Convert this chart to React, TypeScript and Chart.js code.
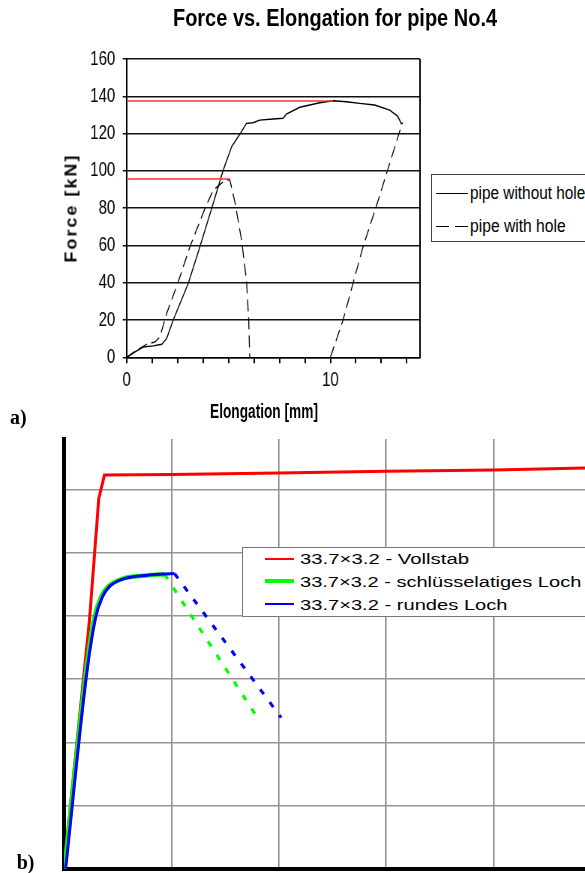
import React, { useEffect, useLayoutEffect, useRef, useState } from "react";
import { Chart, registerables } from "chart.js";

Chart.register(...registerables);

const SANS = "'Liberation Sans',Arial,sans-serif";
const SERIF = "'Liberation Serif','Times New Roman',serif";

// ---------- Chart a: Force vs. Elongation ----------
const titleA = "Force vs. Elongation for pipe No.4";
const xTitleA = "Elongation [mm]";
const yTitleA = "Force [kN]";
const seriesNamesA = ["pipe without hole", "pipe with hole"];
const forceTicks = [0, 20, 40, 60, 80, 100, 120, 140, 160];
const elongationLabels = [0, 10];

const noHoleX = [0, 0.41, 0.81, 1.3, 1.72, 1.96, 2.28, 3.02, 3.59, 4.17, 4.74, 5.15, 5.55, 5.88, 6.2, 6.53, 7.19, 7.68, 7.84, 8.5, 9.48, 10.13, 10.78, 11.44, 12.17, 12.91, 13.3, 13.5];
const noHoleY = [0, 2.9, 5.5, 6.1, 7.0, 10, 19.9, 39.6, 59.2, 79.8, 100.4, 112.9, 119.6, 125.5, 125.8, 127.2, 127.8, 128.2, 130.5, 134.1, 136.5, 137.6, 137.1, 136.2, 135.3, 132.6, 129.4, 125];

const withHoleX = [0, 0.49, 0.98, 1.39, 1.63, 1.96, 2.53, 3.1, 3.84, 4.25, 4.74, 5.06, 5.31, 5.64, 5.88, 5.99, 6.04];
const withHoleY = [0, 3.8, 7, 8.2, 10.9, 23.5, 40.4, 59.2, 79.8, 89.7, 94.1, 95.4, 83.4, 62.8, 41.3, 19.9, 0];

const unloadX = [10.0, 10.62, 11.11, 11.6, 12.22, 13.54];
const unloadY = [0, 19.9, 39.6, 59.2, 79.8, 126];

const peakNoHole = { x: 10.13, y: 137.5 };
const peakWithHole = { x: 5.06, y: 95.6 };

// ---------- Chart b: simulation curves ----------
const seriesNamesB = [
  "33.7×3.2 - Vollstab",
  "33.7×3.2 - schlüsselatiges Loch",
  "33.7×3.2 - rundes Loch",
];
const vollX = [0, 0.237, 0.324, 0.377, 1, 2, 3, 4, 4.85, 5.2];
const vollY = [0, 3.93, 5.86, 6.23, 6.24, 6.26, 6.29, 6.31, 6.34, 6.35];

const keyX = [0.005, 0.207, 0.284, 0.346, 0.408, 0.547, 0.765, 0.936];
const keyY = [0, 3.14, 3.98, 4.3, 4.46, 4.59, 4.64, 4.66];
const keyDropX = [0.936, 1.82];
const keyDropY = [4.66, 2.34];

const roundX = [0.015, 0.215, 0.295, 0.357, 0.42, 0.56, 0.78, 1.029];
const roundY = [0, 3.14, 3.98, 4.3, 4.46, 4.59, 4.645, 4.67];
const roundDropX = [1.029, 2.022];
const roundDropY = [4.67, 2.39];

const zip = (xs: number[], ys: number[]) => xs.map((x, i) => ({ x, y: ys[i] }));

// horizontal squeeze of panel a (the original figure is condensed)
const K = 0.75;
const WA = 585 / K;

type FitProps = {
  text: string;
  x: number;
  y: number;
  width: number;
  font: string;
  anchor?: "left" | "center";
  rotate?: boolean;
  letterSpacing?: string;
};

function FitText({ text, x, y, width, font, anchor = "left", rotate = false, letterSpacing }: FitProps) {
  const ref = useRef<HTMLSpanElement>(null);
  const [s, setS] = useState(1);
  useLayoutEffect(() => {
    const m = () => {
      const el = ref.current;
      if (el && el.offsetWidth) setS(width / el.offsetWidth);
    };
    m();
    const fs: any = (document as any).fonts;
    if (fs && fs.ready) fs.ready.then(m);
  }, [text, width, font]);
  const tf =
    anchor === "center"
      ? `translate(-50%,-50%)${rotate ? " rotate(-90deg)" : ""} scaleX(${s})`
      : `translateY(-50%) scaleX(${s})`;
  return (
    <span
      ref={ref}
      style={{
        position: "absolute",
        left: x,
        top: y,
        font,
        lineHeight: 1,
        whiteSpace: "nowrap",
        transform: tf,
        transformOrigin: anchor === "center" ? "50% 50%" : "0 50%",
        letterSpacing,
        color: "#000",
      }}
    >
      {text}
    </span>
  );
}

function ChartA() {
  const ref = useRef<HTMLCanvasElement>(null);
  useEffect(() => {
    const frame = {
      id: "frameA",
      beforeDatasetsDraw(chart: any) {
        const { ctx, chartArea } = chart;
        ctx.save();
        ctx.strokeStyle = "#000";
        ctx.lineWidth = 2;
        ctx.beginPath();
        ctx.moveTo(chartArea.right, chartArea.top);
        ctx.lineTo(chartArea.right, chartArea.bottom);
        ctx.stroke();
        ctx.restore();
      },
    };
    const line = { showLine: true, pointRadius: 0 };
    const c = new Chart(ref.current as HTMLCanvasElement, {
      type: "scatter",
      data: {
        datasets: [
          { ...line, label: "max without hole", data: [{ x: 0, y: peakNoHole.y }, { x: peakNoHole.x, y: peakNoHole.y }], borderColor: "#ff3030", borderWidth: 1.6 },
          { ...line, label: "max with hole", data: [{ x: 0, y: peakWithHole.y }, { x: peakWithHole.x, y: peakWithHole.y }], borderColor: "#ff3030", borderWidth: 1.6 },
          { ...line, label: seriesNamesA[0], data: zip(noHoleX, noHoleY), borderColor: "#000", borderWidth: 1.4 },
          { ...line, label: seriesNamesA[1], data: zip(withHoleX, withHoleY), borderColor: "#000", borderWidth: 1.3, borderDash: [12, 6] },
          { ...line, label: "unloading", data: zip(unloadX, unloadY), borderColor: "#000", borderWidth: 1.3, borderDash: [12, 6] },
        ],
      },
      options: {
        animation: false,
        responsive: false,
        devicePixelRatio: 1,
        layout: { padding: { left: 0, top: 59, right: WA - 420 / K, bottom: 0 } },
        plugins: { legend: { display: false }, tooltip: { enabled: false }, title: { display: false } },
        elements: { point: { radius: 0 }, line: { tension: 0 } },
        scales: {
          x: {
            type: "linear",
            min: 0,
            max: 14.4,
            afterFit: (s: any) => {
              s.height = 72.7;
            },
            ticks: {
              stepSize: 1.25,
              includeBounds: false,
              autoSkip: false,
              maxRotation: 0,
              padding: 5,
              color: "#000",
              font: { family: SANS, size: 20 },
              callback: (v: any) => {
                const l = elongationLabels.find((e) => Math.abs(e - Number(v)) < 1e-6);
                return l === undefined ? "" : String(l);
              },
            },
            grid: { drawOnChartArea: false, drawTicks: true, tickLength: 6, color: "#000", lineWidth: 2 },
            border: { display: true, color: "#000", width: 1.5 },
          },
          y: {
            type: "linear",
            min: forceTicks[0],
            max: forceTicks[forceTicks.length - 1],
            afterFit: (s: any) => {
              s.width = 126.7 / K;
            },
            afterBuildTicks: (s: any) => {
              s.ticks = forceTicks.map((v) => ({ value: v }));
            },
            ticks: { padding: 10, color: "#000", font: { family: SANS, size: 20 } },
            grid: { color: "#111", lineWidth: 1.5, tickLength: 5.3 },
            border: { color: "#000", width: 2 },
          },
        },
      } as any,
      plugins: [frame],
    });
    return () => c.destroy();
  }, []);
  return (
    <canvas
      ref={ref}
      width={WA}
      height={430}
      style={{ position: "absolute", left: 0, top: 0, width: 585, height: 430 }}
    />
  );
}

function ChartB() {
  const ref = useRef<HTMLCanvasElement>(null);
  useEffect(() => {
    const common = { showLine: true, pointRadius: 0 };
    const c = new Chart(ref.current as HTMLCanvasElement, {
      type: "scatter",
      data: {
        datasets: [
          { ...common, label: seriesNamesB[2] + " (drop)", data: zip(roundDropX, roundDropY), borderColor: "#0000ff", borderWidth: 3, borderDash: [6, 10], order: 0 },
          { ...common, label: seriesNamesB[2], data: zip(roundX, roundY), borderColor: "#0000ff", borderWidth: 3, cubicInterpolationMode: "monotone", order: 1 },
          { ...common, label: seriesNamesB[1] + " (drop)", data: zip(keyDropX, keyDropY), borderColor: "#00ff00", borderWidth: 3, borderDash: [6, 10], order: 2 },
          { ...common, label: seriesNamesB[1], data: zip(keyX, keyY), borderColor: "#00ff00", borderWidth: 4.5, cubicInterpolationMode: "monotone", order: 3 },
          { ...common, label: seriesNamesB[0], data: zip(vollX, vollY), borderColor: "#ff0000", borderWidth: 3, order: 4 },
        ],
      },
      options: {
        animation: false,
        responsive: false,
        devicePixelRatio: 1,
        layout: { padding: { left: 0, top: 19, right: 17.5, bottom: 0 } },
        plugins: { legend: { display: false }, tooltip: { enabled: false }, title: { display: false } },
        elements: { point: { radius: 0 } },
        scales: {
          x: {
            type: "linear",
            min: 0,
            max: 5.2,
            afterFit: (s: any) => {
              s.height = 4.3;
            },
            ticks: { display: false, stepSize: 1, includeBounds: false },
            grid: { color: "#959595", lineWidth: 1.6, drawTicks: false },
            border: { display: true, color: "#000", width: 4 },
          },
          y: {
            type: "linear",
            min: 0,
            max: 6.8,
            afterFit: (s: any) => {
              s.width = 64;
            },
            ticks: { display: false, stepSize: 1, includeBounds: false },
            grid: { color: "#959595", lineWidth: 1.6, drawTicks: false },
            border: { display: true, color: "#000", width: 4 },
          },
        },
      } as any,
    });
    return () => c.destroy();
  }, []);
  return (
    <canvas
      ref={ref}
      width={640}
      height={453}
      style={{ position: "absolute", left: 0, top: 420, width: 640, height: 453 }}
    />
  );
}

const legendBColors = ["#ff0000", "#00ff00", "#0000ff"];
const legendBThick = [2.5, 4, 2.5];
const legendBRowsY = [559.3, 581.5, 604.5];
const legendBWidths = [168.5, 282, 207];

export default function App() {
  return (
    <div style={{ position: "absolute", left: 0, top: 0, width: 585, height: 873, overflow: "hidden", background: "#fff" }}>
      <ChartA />
      <ChartB />

      {/* chart a texts */}
      <FitText text={titleA} x={335} y={18} width={324} font={`bold 23px ${SANS}`} anchor="center" />
      <FitText text={xTitleA} x={264} y={411.5} width={108} font={`bold 19.5px ${SANS}`} anchor="center" />
      <FitText text={yTitleA} x={70.5} y={207.5} width={109} font={`bold 17px ${SANS}`} anchor="center" rotate letterSpacing="2px" />

      {/* legend a */}
      <div style={{ position: "absolute", left: 430.5, top: 174, width: 200, height: 68, border: "1px solid #444", background: "#fff", boxSizing: "border-box" }} />
      <div style={{ position: "absolute", left: 436, top: 192.8, width: 32, height: 1.2, background: "#000" }} />
      <div style={{ position: "absolute", left: 436, top: 226.3, width: 13, height: 1.2, background: "#000" }} />
      <div style={{ position: "absolute", left: 455, top: 226.3, width: 13, height: 1.2, background: "#000" }} />
      <FitText text={seriesNamesA[0]} x={470} y={193.5} width={115} font={`17.5px ${SANS}`} />
      <FitText text={seriesNamesA[1]} x={470} y={227} width={95.7} font={`17.5px ${SANS}`} />

      {/* legend b */}
      <div style={{ position: "absolute", left: 242.3, top: 546.5, width: 400, height: 70.5, border: "1.5px solid #777", background: "#fff", boxSizing: "border-box" }} />
      {seriesNamesB.map((n, i) => (
        <React.Fragment key={n}>
          <div
            style={{
              position: "absolute",
              left: 265,
              top: legendBRowsY[i] - 0.3 - legendBThick[i] / 2,
              width: 28.5,
              height: legendBThick[i],
              background: legendBColors[i],
            }}
          />
          <FitText text={n} x={299.5} y={legendBRowsY[i]} width={legendBWidths[i]} font={`14px ${SANS}`} />
        </React.Fragment>
      ))}

      {/* panel labels */}
      <span style={{ position: "absolute", left: 10, top: 417, transform: "translateY(-50%)", font: `bold 20px ${SERIF}`, lineHeight: 1 }}>a)</span>
      <span style={{ position: "absolute", left: 16.7, top: 862, transform: "translateY(-50%)", font: `bold 20px ${SERIF}`, lineHeight: 1 }}>b)</span>
    </div>
  );
}
